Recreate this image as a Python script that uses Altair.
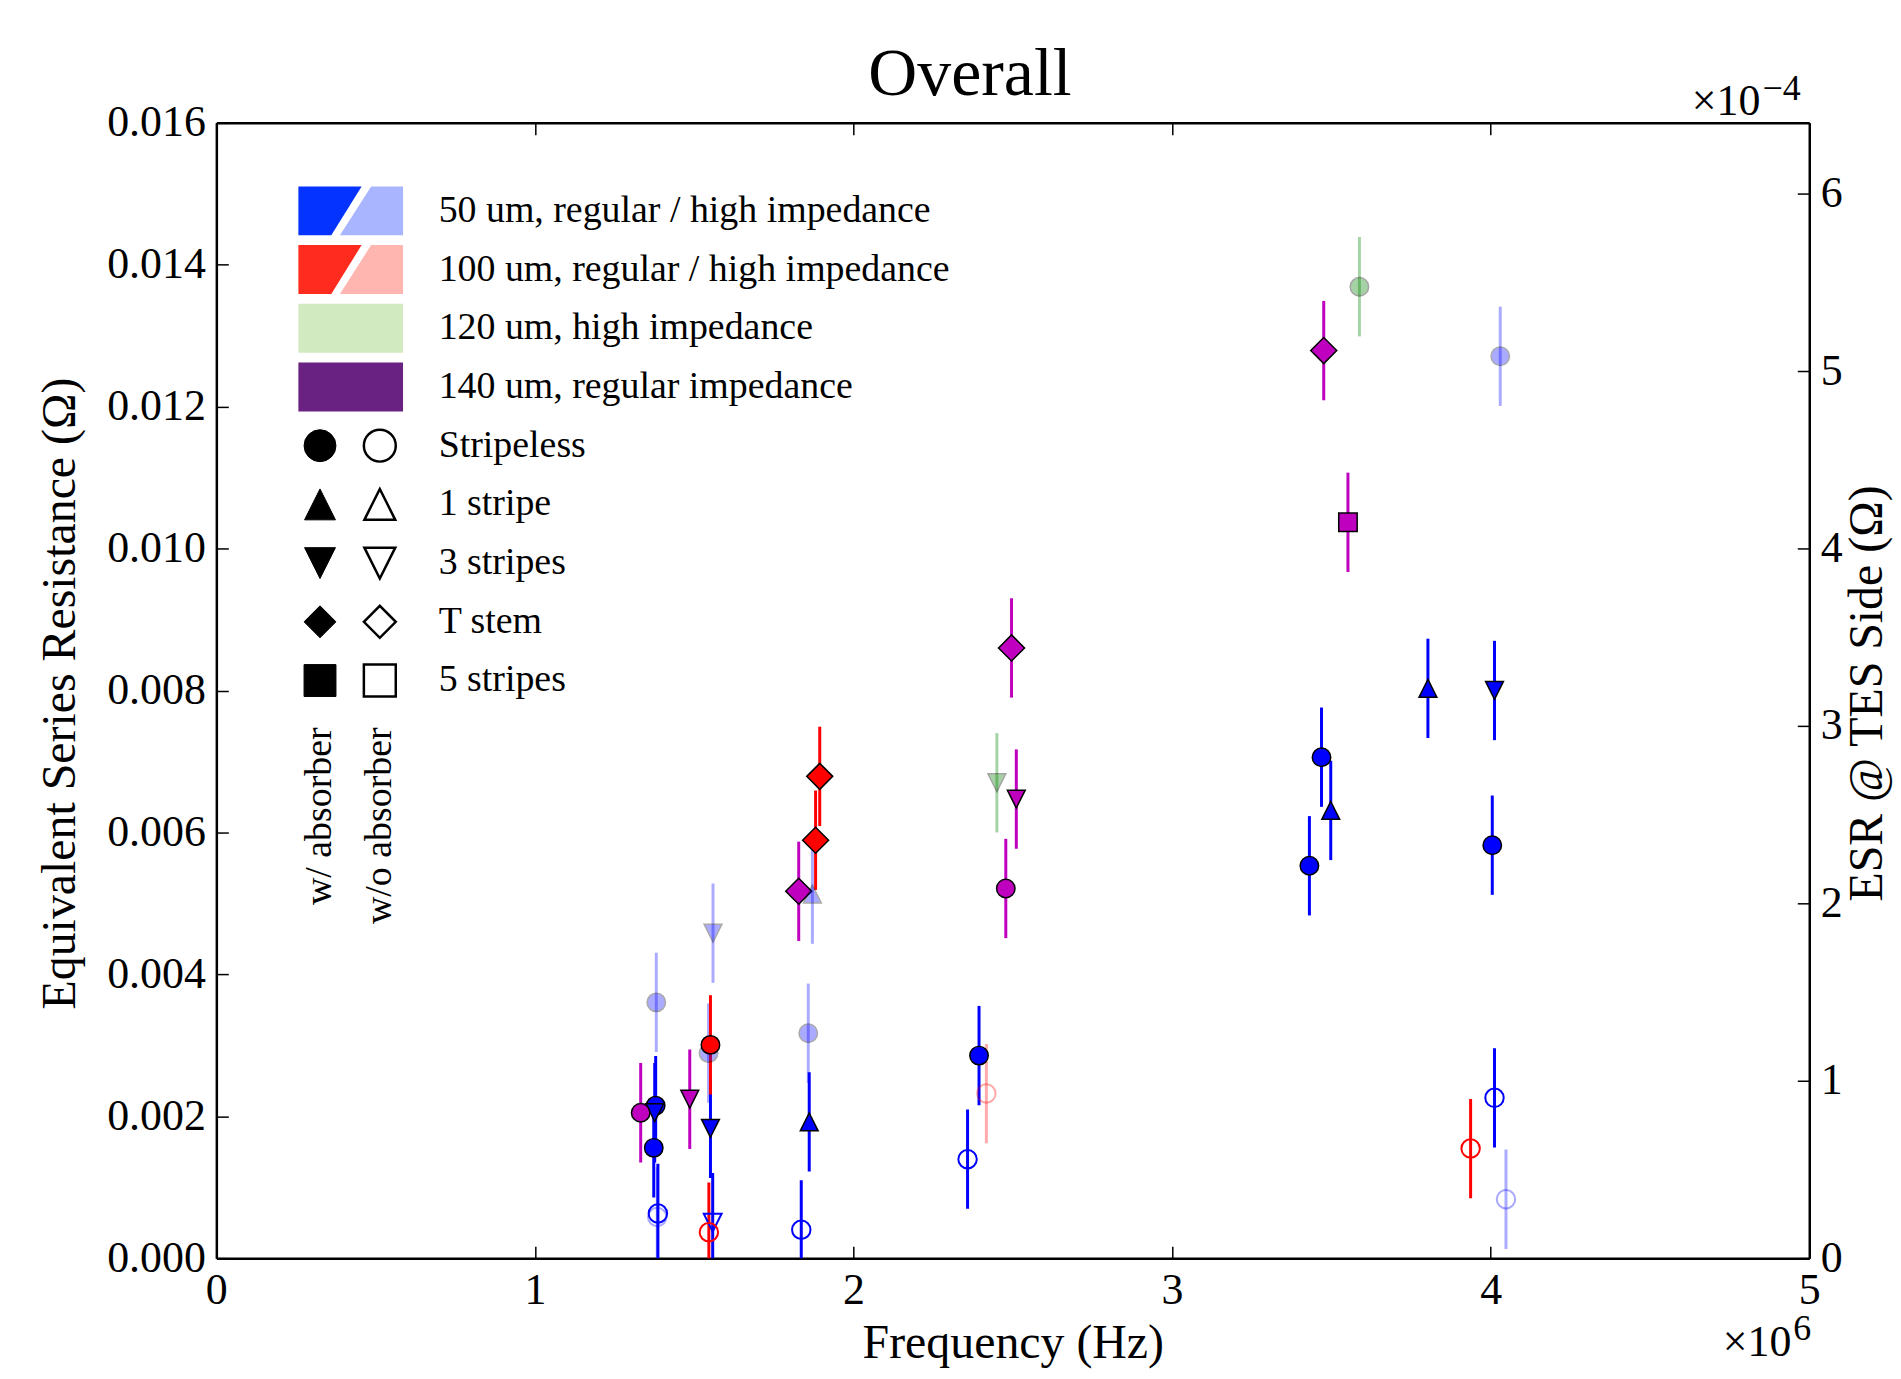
import altair as alt
import pandas as pd

FONT = "Liberation Serif"

# ---------------- data (frequency in MHz, ESR in Ohm) ----------------
point_series = [
    "50reg", "50reg", "50reg", "50reg", "50reg", "50reg",
    "50reg", "50reg", "50reg",
    "50reg", "50reg", "50reg",
    "50reg", "50reg", "50reg", "50reg",
    "50reg",
    "140reg", "140reg", "140reg", "140reg", "140reg", "140reg", "140reg", "140reg",
    "50high", "50high", "50high", "50high", "50high", "50high", "50high", "50high",
    "100reg", "100reg", "100reg", "100reg", "100reg",
    "100high",
    "120high", "120high",
]
point_shape = [
    "Stripeless", "Stripeless", "Stripeless", "Stripeless", "Stripeless", "Stripeless",
    "1 stripe", "1 stripe", "1 stripe",
    "3 stripes", "3 stripes", "3 stripes",
    "Stripeless", "Stripeless", "Stripeless", "Stripeless",
    "3 stripes",
    "Stripeless", "3 stripes", "T stem", "T stem", "3 stripes", "Stripeless", "T stem", "5 stripes",
    "Stripeless", "Stripeless", "Stripeless", "Stripeless", "3 stripes", "1 stripe", "Stripeless", "Stripeless",
    "Stripeless", "T stem", "T stem", "Stripeless", "Stripeless",
    "Stripeless",
    "Stripeless", "3 stripes",
]
point_absorber = [
    True, True, True, True, True, True,
    True, True, True,
    True, True, True,
    False, False, False, False,
    False,
    True, True, True, True, True, True, True, True,
    True, True, True, True, True, True, False, False,
    True, True, True, False, False,
    False,
    True, True,
]
freq_mhz = [
    1.379, 1.373, 2.394, 3.469, 3.431, 4.005,
    1.861, 3.498, 3.803,
    1.376, 1.551, 4.012,
    1.386, 1.836, 2.358, 4.012,
    1.558,
    1.332, 1.486, 1.828, 2.496, 2.511, 2.478, 3.476, 3.552,
    1.381, 1.858, 1.545, 4.030, 1.559, 1.871, 4.048, 1.384,
    1.551, 1.894, 1.881, 1.546, 3.937,
    2.417,
    3.588, 2.450,
]
esr_ohm = [
    0.00215, 0.001555, 0.002855, 0.00706, 0.00553, 0.00582,
    0.00192, 0.00631, 0.00803,
    0.00205, 0.00183, 0.00800,
    0.00063, 0.00040, 0.001395, 0.00226,
    0.00050,
    0.00205, 0.00224, 0.00517, 0.00860, 0.00647, 0.00521, 0.01279, 0.01037,
    0.003605, 0.00317, 0.00289, 0.01271, 0.00458, 0.00513, 0.00083, 0.00058,
    0.003006, 0.00679, 0.00589, 0.000365, 0.001545,
    0.00232,
    0.01369, 0.00670,
]
esr_err = [
    0.0007, 0.0007, 0.0007, 0.0007, 0.0007, 0.0007,
    0.0007, 0.0007, 0.0007,
    0.0007, 0.0007, 0.0007,
    0.0007, 0.0007, 0.0007, 0.0007,
    0.0007,
    0.0007, 0.0007, 0.0007, 0.0007, 0.0007, 0.0007, 0.0007, 0.0007,
    0.0007, 0.0007, 0.0007, 0.0007, 0.0007, 0.0007, 0.0007, 0.0007,
    0.0007, 0.0007, 0.0007, 0.0007, 0.0007,
    0.0007,
    0.0007, 0.0007,
]

x_ticks_hz = [0, 1e6, 2e6, 3e6, 4e6, 5e6]
y_ticks = [0, 0.002, 0.004, 0.006, 0.008, 0.010, 0.012, 0.014, 0.016]
tes_ticks = [0, 1e-4, 2e-4, 3e-4, 4e-4, 5e-4, 6e-4]

legend_labels = [
    "50 um, regular / high impedance",
    "100 um, regular / high impedance",
    "120 um, high impedance",
    "140 um, regular impedance",
    "Stripeless", "1 stripe", "3 stripes", "T stem", "5 stripes",
]
absorber_labels = ["w/ absorber", "w/o absorber"]
legend_shape_names = ["Stripeless", "1 stripe", "3 stripes", "T stem", "5 stripes"]

# ---------------- styles ----------------
SERIES_STYLE = {
    "50reg": ("#0000ff", 1.0),
    "50high": ("#0000ff", 0.33),
    "100reg": ("#ff0000", 1.0),
    "100high": ("#ff0000", 0.33),
    "120high": ("#008000", 0.35),
    "140reg": ("#bf00bf", 1.0),
}
TRI_UP = "M0,-1L1,1L-1,1Z"
TRI_DN = "M0,1L1,-1L-1,-1Z"
SHAPE_STYLE = {  # symbol, data size, legend size
    "Stripeless": ("circle", 342, 1024),
    "1 stripe": (TRI_UP, 320, 960),
    "3 stripes": (TRI_DN, 320, 960),
    "T stem": ("diamond", 680, 1024),
    "5 stripes": ("square", 342, 1024),
}

W, H = 1598, 1139

df = pd.DataFrame({
    "freq": [f * 1e6 for f in freq_mhz],
    "esr": esr_ohm,
    "lo": [e - d for e, d in zip(esr_ohm, esr_err)],
    "hi": [e + d for e, d in zip(esr_ohm, esr_err)],
    "series": point_series,
    "shape": point_shape,
    "absorber": point_absorber,
})
df["color"] = [SERIES_STYLE[s][0] for s in df["series"]]
df["alpha"] = [SERIES_STYLE[s][1] for s in df["series"]]
df["sym"] = [SHAPE_STYLE[s][0] for s in df["shape"]]
df["size"] = [SHAPE_STYLE[s][1] for s in df["shape"]]
df["fill"] = [c if a else "transparent" for c, a in zip(df["color"], df["absorber"])]
df["stroke"] = [("black" if a else c) for c, a in zip(df["color"], df["absorber"])]
df["sw"] = [1.5 if a else 2.0 for a in df["absorber"]]
df["order"] = list(range(len(df)))

xs = alt.Scale(domain=[0, 5e6], nice=False, zero=False)
ys = alt.Scale(domain=[0, 0.016], nice=False, zero=False)

common_axis = dict(
    labelFont=FONT, titleFont=FONT, labelColor="black", titleColor="black",
    titleFontWeight="normal", labelFontSize=44, titleFontSize=48,
    ticks=False, domain=True, domainColor="black", domainWidth=2.5,
    grid=True, gridColor="black", gridWidth=1.5,
    gridOpacity=1, labelFlush=False, labelOverlap=False,
)

x_axis = alt.Axis(
    orient="bottom", values=x_ticks_hz,
    labelExpr="format(datum.value/1000000, 'd')",
    title="Frequency (Hz)", titleY=100, titleBaseline="alphabetic",
    labelPadding=10, gridDash=[12, H - 24, 12, 5000], **common_axis,
)
y_axis = alt.Axis(
    orient="left", values=y_ticks, format=".3f",
    title="Equivalent Series Resistance (Ω)", titleAngle=270,
    titleX=-142, titleY=572, titleBaseline="alphabetic", titleAlign="center",
    labelPadding=11, gridDash=[12, 5000], **common_axis,
)
r_axis = alt.Axis(
    orient="right", values=tes_ticks,
    labelExpr="format(datum.value*10000, 'd')",
    title="ESR @ TES Side (Ω)", titleAngle=270,
    titleX=72, titleY=572, titleBaseline="alphabetic", titleAlign="center",
    labelPadding=11, gridDash=[12, 5000], **common_axis,
)
top_axis = alt.Axis(
    orient="top", values=x_ticks_hz, labels=False, ticks=False, grid=False,
    title=None, domain=True, domainColor="black", domainWidth=2.5,
)

err = alt.Chart(df).mark_rule(strokeWidth=3, clip=True).encode(
    x=alt.X("freq:Q", scale=xs, axis=x_axis),
    y=alt.Y("lo:Q", scale=ys, axis=y_axis),
    y2="hi:Q",
    color=alt.Color("color:N", scale=None),
    opacity=alt.Opacity("alpha:Q", scale=None),
)

pts = alt.Chart(df).mark_point(filled=True, clip=True).encode(
    x=alt.X("freq:Q", scale=xs, axis=None),
    y=alt.Y("esr:Q", scale=ys, axis=None),
    shape=alt.Shape("sym:N", scale=None),
    size=alt.Size("size:Q", scale=None),
    fill=alt.Fill("fill:N", scale=None),
    stroke=alt.Stroke("stroke:N", scale=None),
    strokeWidth=alt.StrokeWidth("sw:Q", scale=None),
    opacity=alt.Opacity("alpha:Q", scale=None),
    order=alt.Order("order:Q"),
)

right = alt.Chart(pd.DataFrame({"v": tes_ticks})).mark_rule(opacity=0).encode(
    y=alt.Y("v:Q", scale=alt.Scale(domain=[0, 6.4e-4], nice=False, zero=False), axis=r_axis),
)
top = alt.Chart(pd.DataFrame({"t": x_ticks_hz})).mark_point(opacity=0).encode(
    x=alt.X("t:Q", scale=alt.Scale(domain=[0, 5e6], nice=False, zero=False), axis=top_axis),
)

# ---------------- legend (pixel layout) ----------------
ROW0, ROW_STEP = 88.3, 58.9
PATCH_X = 134.8
PATCH_L = "M-1,-0.467L0.208,-0.467L-0.371,0.467L-1,0.467Z"
PATCH_R = "M0.39,-0.467L1,-0.467L1,0.467L-0.206,0.467Z"
PATCH_FULL = "M-1,-0.467L1,-0.467L1,0.467L-1,0.467Z"
patch_rows = [0, 0, 1, 1, 2, 3]
patch_paths = [PATCH_L, PATCH_R, PATCH_L, PATCH_R, PATCH_FULL, PATCH_FULL]
patch_colors = ["#0433ff", "#aab5ff", "#ff2b1e", "#ffb5b0", "#d2eabf", "#6a2282"]

patch_df = pd.DataFrame({
    "px": [PATCH_X] * len(patch_rows),
    "py": [ROW0 + ROW_STEP * r for r in patch_rows],
    "path": patch_paths,
    "color": patch_colors,
})
patches = alt.Chart(patch_df).mark_point(filled=True, size=11025, opacity=1, strokeWidth=0).encode(
    x=alt.X("px:Q", scale=None, axis=None),
    y=alt.Y("py:Q", scale=None, axis=None),
    shape=alt.Shape("path:N", scale=None),
    fill=alt.Fill("color:N", scale=None),
)

lm_rows, lm_px, lm_sym, lm_size, lm_fill, lm_sw = [], [], [], [], [], []
for i, name in enumerate(legend_shape_names):
    for filled, px in ((True, 104), (False, 164)):
        lm_rows.append(4 + i)
        lm_px.append(px)
        lm_sym.append(SHAPE_STYLE[name][0])
        lm_size.append(SHAPE_STYLE[name][2])
        lm_fill.append("black" if filled else "white")
        lm_sw.append(1.0 if filled else 2.5)
lm_df = pd.DataFrame({
    "px": lm_px, "py": [ROW0 + ROW_STEP * r for r in lm_rows],
    "sym": lm_sym, "size": lm_size, "fill": lm_fill, "sw": lm_sw,
})
leg_markers = alt.Chart(lm_df).mark_point(filled=True, opacity=1, stroke="black").encode(
    x=alt.X("px:Q", scale=None, axis=None),
    y=alt.Y("py:Q", scale=None, axis=None),
    shape=alt.Shape("sym:N", scale=None),
    size=alt.Size("size:Q", scale=None),
    fill=alt.Fill("fill:N", scale=None),
    strokeWidth=alt.StrokeWidth("sw:Q", scale=None),
)

lt_df = pd.DataFrame({
    "px": [223] * len(legend_labels),
    "py": [ROW0 + ROW_STEP * i for i in range(len(legend_labels))],
    "text": legend_labels,
})
leg_text = alt.Chart(lt_df).mark_text(
    align="left", baseline="middle", font=FONT, fontSize=38, color="black"
).encode(
    x=alt.X("px:Q", scale=None, axis=None),
    y=alt.Y("py:Q", scale=None, axis=None),
    text="text:N",
)

ab_df = pd.DataFrame({"px": [104, 164], "py": [606.5, 606.5], "text": absorber_labels})
abs_text = alt.Chart(ab_df).mark_text(
    align="right", baseline="middle", angle=270, font=FONT, fontSize=38, color="black"
).encode(
    x=alt.X("px:Q", scale=None, axis=None),
    y=alt.Y("py:Q", scale=None, axis=None),
    text="text:N",
)

# ---------------- title and axis multipliers ----------------
title_df = pd.DataFrame({"px": [756], "py": [-28], "text": ["Overall"]})
title = alt.Chart(title_df).mark_text(
    align="center", baseline="alphabetic", font=FONT, fontSize=68, color="black"
).encode(
    x=alt.X("px:Q", scale=None, axis=None),
    y=alt.Y("py:Q", scale=None, axis=None),
    text="text:N",
)

mult_base = ["×10", "×10"]
mult_exp = ["6", "−4"]
base_df = pd.DataFrame({"px": [1580, 1549], "py": [1237, -8], "text": mult_base})
exp_df = pd.DataFrame({"px": [1582, 1551], "py": [1221, -23], "text": mult_exp})
mult = alt.Chart(base_df).mark_text(
    align="right", baseline="alphabetic", font=FONT, fontSize=44, color="black"
).encode(
    x=alt.X("px:Q", scale=None, axis=None),
    y=alt.Y("py:Q", scale=None, axis=None),
    text="text:N",
)
exps = alt.Chart(exp_df).mark_text(
    align="left", baseline="alphabetic", font=FONT, fontSize=36, color="black"
).encode(
    x=alt.X("px:Q", scale=None, axis=None),
    y=alt.Y("py:Q", scale=None, axis=None),
    text="text:N",
)

chart = alt.layer(
    err, pts, right, top, patches, leg_markers, leg_text, abs_text, title, mult, exps
).resolve_scale(
    x="independent", y="independent"
).properties(
    width=W, height=H,
    autosize=alt.AutoSizeParams(type="none"),
    padding={"left": 209, "top": 113, "right": 84, "bottom": 111},
).configure_view(
    stroke="black", strokeWidth=2.5
).configure(background="white")

chart.save("out.html", embed_options={"renderer": "svg", "actions": False})
